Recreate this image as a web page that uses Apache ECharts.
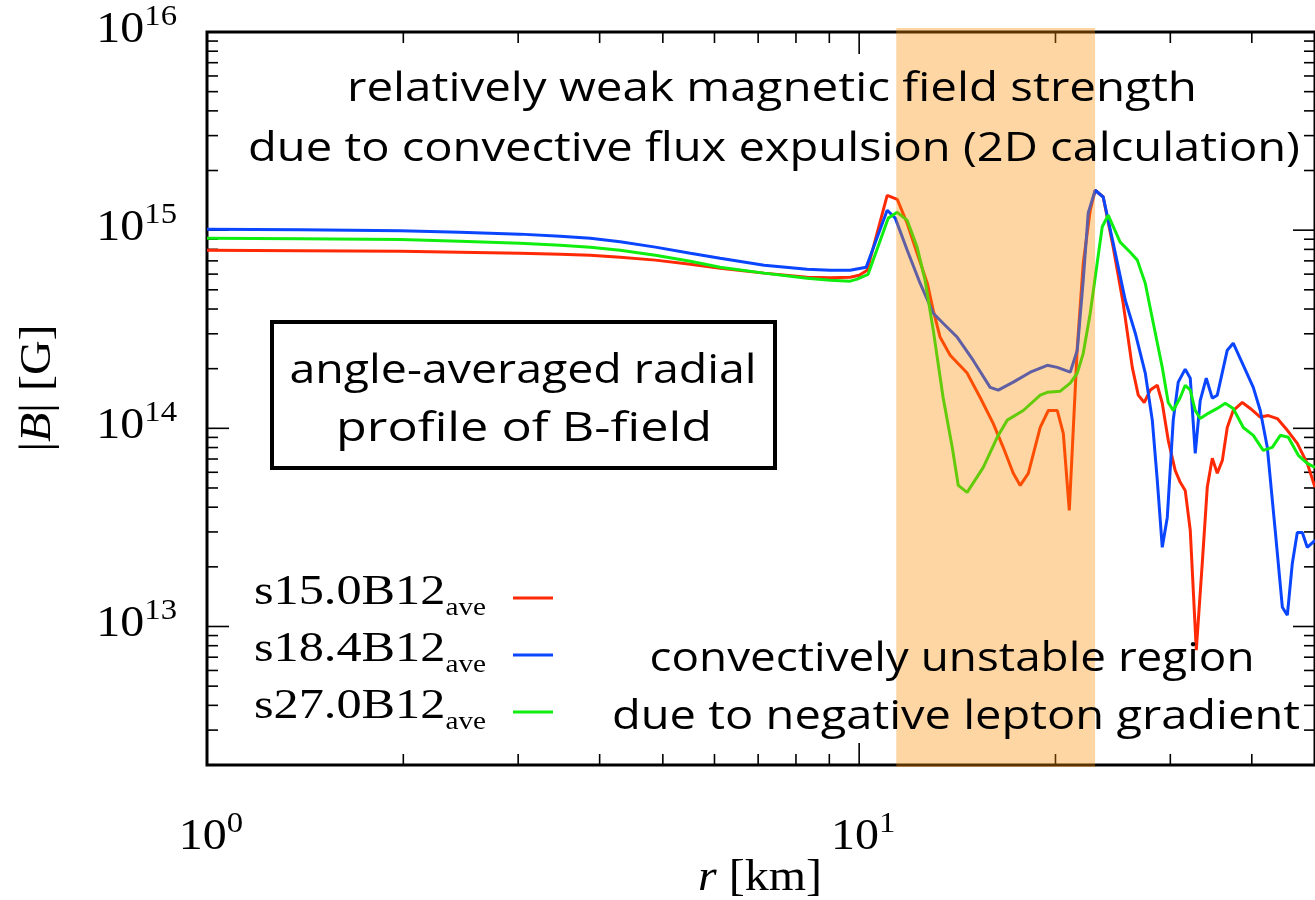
<!DOCTYPE html>
<html>
<head>
<meta charset="utf-8">
<script src="https://cdn.jsdelivr.net/npm/echarts@6/dist/echarts.min.js"></script>
<style>
  html, body { margin: 0; padding: 0; background: #ffffff; }
  #chart { width: 1315px; height: 900px; }
</style>
</head>
<body>
<div id="chart"></div>
<script>
// ---- radial profiles of the angle-averaged field strength |B| [G] vs r [km] ----
const radiusS15 = [1, 1.39, 1.98, 2.44, 3.02, 3.48, 3.87, 4.30, 4.87, 5.51, 6.12, 7.15, 8.32, 9.03, 9.69, 10.0, 10.29, 11.04, 11.44, 11.85, 12.27, 12.72, 12.99, 13.31, 13.79, 14.64, 15.33, 16.05, 16.63, 17.23, 17.66, 18.17, 18.95, 19.50, 20.13, 20.56, 21.00, 21.60, 22.06, 22.61, 23.01, 23.67, 24.52, 25.40, 26.23, 26.79, 27.36, 27.95, 28.65, 29.16, 29.78, 30.52, 31.07, 31.62, 32.19, 32.88, 33.58, 34.18, 34.79, 35.41, 36.05, 36.68, 37.46, 38.68, 39.79, 41.21, 42.40, 43.77, 45.35, 46.97, 48.65, 50.0];
const fieldS15 = [7.92e14, 7.88e14, 7.83e14, 7.74e14, 7.65e14, 7.56e14, 7.47e14, 7.30e14, 7.06e14, 6.73e14, 6.43e14, 6.07e14, 5.79e14, 5.76e14, 5.79e14, 5.92e14, 6.28e14, 1.50e15, 1.43e15, 1.08e15, 7.65e14, 5.40e14, 3.94e14, 2.88e14, 2.34e14, 1.90e14, 1.43e14, 1.06e14, 8.02e13, 5.93e13, 5.15e13, 5.93e13, 1.01e14, 1.23e14, 1.23e14, 9.43e13, 3.85e13, 2.56e14, 6.81e14, 1.26e15, 1.59e15, 1.47e15, 8.21e14, 4.28e14, 2.03e14, 1.47e14, 1.35e14, 1.56e14, 1.65e14, 1.34e14, 8.70e13, 6.14e13, 5.34e13, 4.86e13, 3.05e13, 7.6e12, 2.08e13, 5.04e13, 7.06e13, 5.93e13, 6.89e13, 1.01e14, 1.23e14, 1.35e14, 1.26e14, 1.14e14, 1.16e14, 1.12e14, 9.77e13, 8.40e13, 6.66e13, 5.04e13];

const radiusS18 = [1, 1.39, 1.98, 2.44, 3.02, 3.48, 3.87, 4.30, 4.87, 5.51, 6.12, 7.15, 8.32, 9.03, 9.69, 10.25, 11.04, 11.36, 11.85, 12.40, 12.99, 13.45, 14.14, 14.96, 15.88, 16.34, 17.23, 18.30, 19.43, 20.13, 21.07, 21.60, 22.06, 22.45, 23.01, 23.67, 24.52, 25.59, 26.51, 27.46, 28.15, 28.65, 29.16, 29.68, 30.31, 30.85, 31.62, 32.19, 32.76, 33.34, 34.06, 34.79, 35.41, 36.68, 37.46, 38.82, 40.21, 41.21, 42.25, 43.45, 44.56, 45.35, 46.15, 46.97, 47.81, 48.65, 50.0];
const fieldS18 = [1.01e15, 1.006e15, 9.94e14, 9.77e14, 9.55e14, 9.33e14, 9.11e14, 8.75e14, 8.21e14, 7.65e14, 7.22e14, 6.66e14, 6.35e14, 6.28e14, 6.28e14, 6.50e14, 1.26e15, 1.15e15, 7.92e14, 5.40e14, 3.81e14, 3.39e14, 2.88e14, 2.20e14, 1.61e14, 1.56e14, 1.71e14, 1.92e14, 2.08e14, 2.03e14, 1.92e14, 2.48e14, 5.59e14, 1.22e15, 1.59e15, 1.47e15, 8.60e14, 4.43e14, 3.02e14, 1.90e14, 1.10e14, 5.46e13, 2.51e13, 3.55e13, 1.10e14, 1.71e14, 1.99e14, 1.79e14, 7.47e13, 1.38e14, 1.79e14, 1.42e14, 1.47e14, 2.48e14, 2.69e14, 2.08e14, 1.61e14, 1.23e14, 8.02e13, 3.05e13, 1.25e13, 1.14e13, 2.08e13, 2.98e13, 2.98e13, 2.51e13, 2.72e13];

const radiusS27 = [1, 1.39, 1.98, 2.44, 3.02, 3.48, 3.87, 4.30, 4.87, 5.51, 6.12, 7.15, 8.32, 9.03, 9.69, 9.93, 10.32, 11.08, 11.44, 11.85, 12.27, 12.62, 12.99, 13.45, 13.89, 14.19, 14.64, 15.50, 16.28, 16.87, 17.85, 18.95, 19.43, 20.34, 21.07, 21.60, 22.06, 22.61, 23.17, 23.59, 24.09, 25.13, 26.04, 26.70, 27.46, 28.25, 29.16, 29.78, 30.31, 31.07, 31.62, 32.19, 32.76, 33.34, 34.30, 35.41, 36.42, 37.46, 38.82, 40.21, 41.65, 43.00, 44.24, 45.50, 47.14, 48.65, 50.0];
const fieldS27 = [9.11e14, 9.06e14, 8.96e14, 8.80e14, 8.60e14, 8.40e14, 8.21e14, 7.92e14, 7.47e14, 6.97e14, 6.50e14, 6.07e14, 5.72e14, 5.59e14, 5.53e14, 5.66e14, 5.99e14, 1.15e15, 1.23e15, 1.12e15, 8.21e14, 5.59e14, 3.13e14, 1.43e14, 8.02e13, 5.15e13, 4.75e13, 6.35e13, 9.01e13, 1.10e14, 1.23e14, 1.47e14, 1.52e14, 1.54e14, 1.69e14, 1.90e14, 2.39e14, 3.81e14, 6.81e14, 1.04e15, 1.19e15, 8.70e14, 7.74e14, 7.06e14, 5.40e14, 3.39e14, 2.03e14, 1.35e14, 1.23e14, 1.43e14, 1.65e14, 1.56e14, 1.23e14, 1.12e14, 1.19e14, 1.26e14, 1.34e14, 1.26e14, 1.01e14, 9.22e13, 7.74e13, 8.02e13, 9.22e13, 9.01e13, 7.31e13, 6.66e13, 6.35e13];

const seriesNames = ['s15.0B12', 's18.4B12', 's27.0B12'];

// convectively unstable layer (negative lepton gradient), r in km
const unstableRegion = [11.4, 23.0];

// axis ranges and ticks
const xRange = [1, 50];
const yRange = [2e12, 1e16];
const xMajorTicks = [1, 10];
const xMinorTicks = [2, 3, 4, 5, 6, 7, 8, 9, 20, 30, 40, 50];
const xLabelExponents = [0, 1];
const yMajorTicks = [1e13, 1e14, 1e15, 1e16];
const yMinorTicks = [3e12, 4e12, 5e12, 6e12, 7e12, 8e12, 9e12,
                     2e13, 3e13, 4e13, 5e13, 6e13, 7e13, 8e13, 9e13,
                     2e14, 3e14, 4e14, 5e14, 6e14, 7e14, 8e14, 9e14,
                     2e15, 3e15, 4e15, 5e15, 6e15, 7e15, 8e15, 9e15];
const yLabelExponents = [13, 14, 15, 16];

// ---- styling ----
const COLORS = ['#ff2a05', '#0a46ff', '#10ee10'];
const SERIF = "'Liberation Serif', 'DejaVu Serif', serif";
const HAND = "'Open Sans', 'Lato', sans-serif";
const GRID = { left: 207, top: 32, width: 1108, height: 733 };
const TICK_MAJOR = 22, TICK_MINOR = 11;
const SERIF_STRETCH = 1.09;   // widen Times-like glyphs toward Computer Modern proportions

const zip = (xs, ys) => xs.map((x, i) => [x, ys[i]]);

const chart = echarts.init(document.getElementById('chart'), null, { renderer: 'canvas' });

// canvas measurement used to fit the hand-lettered notes to their intended width
const measureCtx = document.createElement('canvas').getContext('2d');
function fitScale(text, size, family, target) {
  measureCtx.font = size + 'px ' + family;
  return target / measureCtx.measureText(text).width;
}
function note(text, cx, cy, size, targetWidth) {
  const s = fitScale(text, size, HAND, targetWidth);
  return {
    type: 'text', x: cx, y: cy, scaleX: s, z: 100,
    style: { text: text, fontSize: size, fontFamily: HAND, fill: '#000',
             textAlign: 'center', textVerticalAlign: 'middle' }
  };
}

const tickLine = (x1, y1, x2, y2) => ({
  type: 'line', shape: { x1, y1, x2, y2 },
  style: { stroke: '#000', lineWidth: 1.6 }
});

const supRich = {
  b: { fontSize: 44, fontFamily: SERIF, fill: '#000', verticalAlign: 'bottom', lineHeight: 50 },
  s: { fontSize: 30, fontFamily: SERIF, fill: '#000', verticalAlign: 'top', lineHeight: 50 }
};

const xTickData = xMajorTicks.map(v => [v, yRange[1], 1]).concat(xMinorTicks.map(v => [v, yRange[1], 0]));
const yTickData = yMajorTicks.map(v => [xRange[0], v, 1]).concat(yMinorTicks.map(v => [xRange[0], v, 0]));

const option = {
  backgroundColor: '#ffffff',
  animation: false,
  grid: Object.assign({ show: true, borderColor: '#000', borderWidth: 3, backgroundColor: 'transparent' }, GRID),
  xAxis: {
    type: 'log', logBase: 10, min: xRange[0], max: xRange[1],
    axisLine: { show: false }, axisTick: { show: false },
    axisLabel: { show: false }, splitLine: { show: false }, minorTick: { show: false }
  },
  yAxis: {
    type: 'log', logBase: 10, min: yRange[0], max: yRange[1],
    axisLine: { show: false }, axisTick: { show: false },
    axisLabel: { show: false }, splitLine: { show: false }, minorTick: { show: false }
  },
  series: [
    {
      name: seriesNames[0], type: 'line', data: zip(radiusS15, fieldS15), z: 2,
      showSymbol: false, symbol: 'none', lineStyle: { color: COLORS[0], width: 3 }, itemStyle: { color: COLORS[0] }
    },
    {
      name: seriesNames[1], type: 'line', data: zip(radiusS18, fieldS18), z: 2,
      showSymbol: false, symbol: 'none', lineStyle: { color: COLORS[1], width: 3 }, itemStyle: { color: COLORS[1] }
    },
    {
      name: seriesNames[2], type: 'line', data: zip(radiusS27, fieldS27), z: 2,
      showSymbol: false, symbol: 'none', lineStyle: { color: COLORS[2], width: 3 }, itemStyle: { color: COLORS[2] }
    },
    // x-axis ticks (bottom and top) with power-of-ten labels
    {
      type: 'custom', z: 2, clip: false, silent: true,
      encode: { x: 0, y: 1 },
      data: xTickData,
      renderItem: function (params, api) {
        const v = api.value(0), major = api.value(2) === 1;
        const len = major ? TICK_MAJOR : TICK_MINOR;
        const top = api.coord([v, yRange[1]]);
        const bot = api.coord([v, yRange[0]]);
        const children = [tickLine(top[0], top[1], top[0], top[1] + len),
                          tickLine(bot[0], bot[1], bot[0], bot[1] - len)];
        if (major) {
          const exp = xLabelExponents[xMajorTicks.indexOf(v)];
          children.push({
            type: 'text', x: bot[0] + 4, y: bot[1] + 69, scaleX: SERIF_STRETCH,
            style: { text: '{b|10}{s|' + exp + '}', rich: supRich, textAlign: 'center', textVerticalAlign: 'middle' }
          });
        }
        return { type: 'group', children };
      }
    },
    // y-axis ticks (left and right) with power-of-ten labels
    {
      type: 'custom', z: 2, clip: false, silent: true,
      encode: { x: 0, y: 1 },
      data: yTickData,
      renderItem: function (params, api) {
        const v = api.value(1), major = api.value(2) === 1;
        const len = major ? TICK_MAJOR : TICK_MINOR;
        const left = api.coord([xRange[0], v]);
        const right = api.coord([xRange[1], v]);
        const children = [tickLine(left[0], left[1], left[0] + len, left[1]),
                          tickLine(right[0], right[1], right[0] - len, right[1])];
        if (major) {
          const exp = yLabelExponents[yMajorTicks.indexOf(v)];
          children.push({
            type: 'text', x: left[0] - 30, y: left[1] - 5, scaleX: SERIF_STRETCH,
            style: { text: '{b|10}{s|' + exp + '}', rich: supRich, textAlign: 'right', textVerticalAlign: 'middle' }
          });
        }
        return { type: 'group', children };
      }
    },
    // translucent band marking the convectively unstable region, laid over the curves
    {
      type: 'custom', z: 5, clip: false, silent: true,
      encode: { x: [0, 1] },
      data: [[unstableRegion[0], unstableRegion[1]]],
      renderItem: function (params, api) {
        const p0 = api.coord([api.value(0), yRange[1]]);
        const p1 = api.coord([api.value(1), yRange[0]]);
        return {
          type: 'rect',
          shape: { x: p0[0], y: p0[1] - 4, width: p1[0] - p0[0], height: p1[1] - p0[1] + 6 },
          style: { fill: 'rgba(250,142,0,0.36)' }
        };
      }
    }
  ],
  graphic: [
    // axis titles
    {
      type: 'text', x: 760, y: 878, z: 100, scaleX: SERIF_STRETCH,
      style: {
        text: '{i|r}{n| [km]}', textAlign: 'center', textVerticalAlign: 'middle',
        rich: {
          i: { fontSize: 44, fontFamily: SERIF, fontStyle: 'italic', fill: '#000' },
          n: { fontSize: 44, fontFamily: SERIF, fill: '#000' }
        }
      }
    },
    {
      type: 'text', x: 38, y: 388, rotation: Math.PI / 2, z: 100, scaleX: SERIF_STRETCH,
      style: {
        text: '{n||}{i|B}{n|| [G]}', textAlign: 'center', textVerticalAlign: 'middle',
        rich: {
          i: { fontSize: 44, fontFamily: SERIF, fontStyle: 'italic', fill: '#000' },
          n: { fontSize: 44, fontFamily: SERIF, fill: '#000' }
        }
      }
    },
    // legend entries: label on the left, line sample on the right
    ...seriesNames.map((name, i) => ({
      type: 'group', z: 100,
      children: [
        {
          type: 'text', x: 486, y: 596 + i * 57, scaleX: 1.17,
          style: {
            text: '{m|' + name + '}{s|ave}', textAlign: 'right', textVerticalAlign: 'middle',
            rich: {
              m: { fontSize: 43, fontFamily: SERIF, fill: '#000', verticalAlign: 'top', lineHeight: 50 },
              s: { fontSize: 25, fontFamily: SERIF, fill: '#000', verticalAlign: 'bottom', lineHeight: 50 }
            }
          }
        },
        {
          type: 'line', shape: { x1: 513, y1: 598 + i * 57, x2: 553, y2: 598 + i * 57 },
          style: { stroke: COLORS[i], lineWidth: 3 }
        }
      ]
    })),
    // framed caption
    {
      type: 'rect', z: 99, shape: { x: 272, y: 322, width: 503, height: 146 },
      style: { fill: '#ffffff', stroke: '#000', lineWidth: 4 }
    },
    note('angle-averaged radial', 523, 372, 40, 467),
    note('profile of B-field', 524, 430, 40, 376),
    // annotations
    note('relatively weak magnetic field strength', 772, 90, 40, 850),
    note('due to convective flux expulsion (2D calculation)', 774, 150, 40, 1052),
    note('convectively unstable region', 952, 660, 40, 605),
    note('due to negative lepton gradient', 956, 718, 40, 688)
  ]
};

chart.setOption(option);
</script>
</body>
</html>
